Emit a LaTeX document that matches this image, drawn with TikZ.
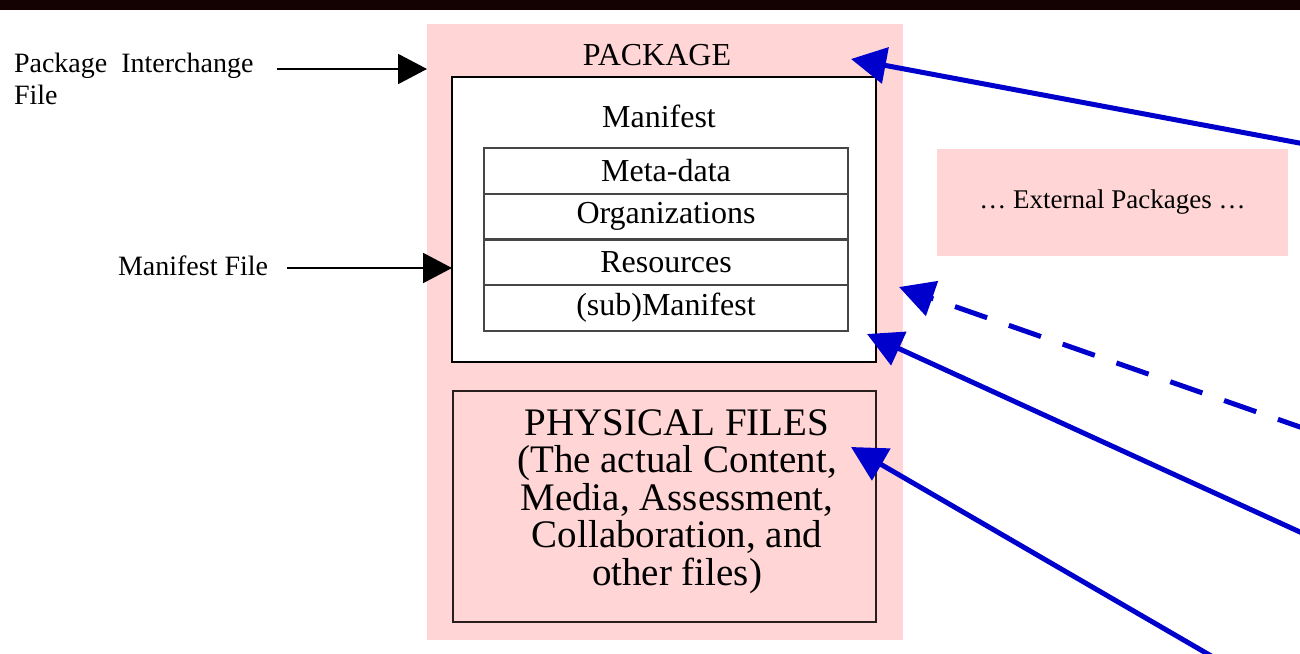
\documentclass[tikz,border=0pt]{standalone}
\usepackage{fontspec}
\setmainfont{Liberation Serif}
\usetikzlibrary{arrows.meta}
\definecolor{pinkbg}{RGB}{255,213,213}
\definecolor{arrowblue}{RGB}{0,0,204}
\definecolor{topstrip}{RGB}{20,2,2}
\definecolor{rowline}{RGB}{70,70,70}
\definecolor{boxline}{RGB}{40,30,30}
\tikzset{
  plainbox/.style={rectangle, inner sep=0pt, outer sep=0pt},
  rowbox/.style={plainbox, draw=rowline, line width=2pt, minimum width=364pt, minimum height=45.75pt, font=\fontsize{32}{36}\selectfont},
  lbl/.style={inner sep=0pt, outer sep=0pt, font=\fontsize{28}{32}\selectfont},
  blackarrow/.style={line width=2pt, -{Triangle[length=29pt,width=30pt]}},
  bluearrow/.style={arrowblue, line width=5pt, -{Triangle[length=35pt,width=36pt]}},
}
\begin{document}
\begin{tikzpicture}[x=1pt,y=-1pt]
\useasboundingbox (0,0) rectangle (1300,653);
\fill[white] (0,0) rectangle (1300,653);
\fill[topstrip] (0,0) rectangle (1300,10);

% package
\node[plainbox, fill=pinkbg, minimum width=476pt, minimum height=616pt] (pkg) at (665,332) {};
\node[lbl, anchor=base, font=\fontsize{32}{36}\selectfont] (pkgtitle) at (657,65) {PACKAGE};

% manifest box
\node[plainbox, fill=white, draw=black, line width=1.5pt, minimum width=424pt, minimum height=285pt] (manbox) at (664,219.5) {};
\node[lbl, anchor=base, font=\fontsize{32}{36}\selectfont] (mantitle) at (659,127) {Manifest};

\node[rowbox] (r1) at (666,170.9) {Meta-data};
\node[rowbox] (r2) at (666,216.6) {Organizations};
\node[rowbox] (r3) at (666,262.4) {Resources};
\node[rowbox] (r4) at (666,308.1) {(sub)Manifest};

% physical files
\node[plainbox, draw=boxline, line width=1.5pt, minimum width=423pt, minimum height=231pt] (phys) at (664.5,506.5) {};
\node[lbl, anchor=base, align=center, font=\fontsize{39}{37.5}\selectfont] (phystext) at (677,585)
  {PHYSICAL FILES\\(The actual Content,\\Media, Assessment,\\Collaboration, and\\other files)};

% external packages
\node[plainbox, fill=pinkbg, minimum width=351pt, minimum height=107pt, font=\fontsize{27}{32}\selectfont] (ext) at (1112.5,202.5) {\ldots\ External Packages \ldots};

% left labels
\node[lbl, anchor=base west, align=left] (pif) at (14,104) {Package\ \ Interchange\\File};
\node[lbl, anchor=base west] (mf) at (118,275) {Manifest File};

\coordinate (a1s) at (277,69);
\coordinate (a2s) at (287,268);
\draw[blackarrow] (a1s) -- (pkg.west |- a1s);
\draw[blackarrow] (a2s) -- (manbox.west |- a2s);

% blue arrows
\coordinate (b1s) at (1310,145);
\coordinate (b1e) at (851,59);
\coordinate (b2s) at (1310,430.5);
\coordinate (b2e) at (899,287);
\coordinate (b3s) at (1310,536.6);
\coordinate (b3e) at (867,334);
\coordinate (b4s) at (1225,664);
\coordinate (b4e) at (851,447);
\draw[bluearrow] (b1s) -- (b1e);
\draw[bluearrow, dash pattern=on 34pt off 23pt] (b2s) -- (b2e);
\draw[bluearrow] (b3s) -- (b3e);
\draw[bluearrow] (b4s) -- (b4e);
\end{tikzpicture}
\end{document}
